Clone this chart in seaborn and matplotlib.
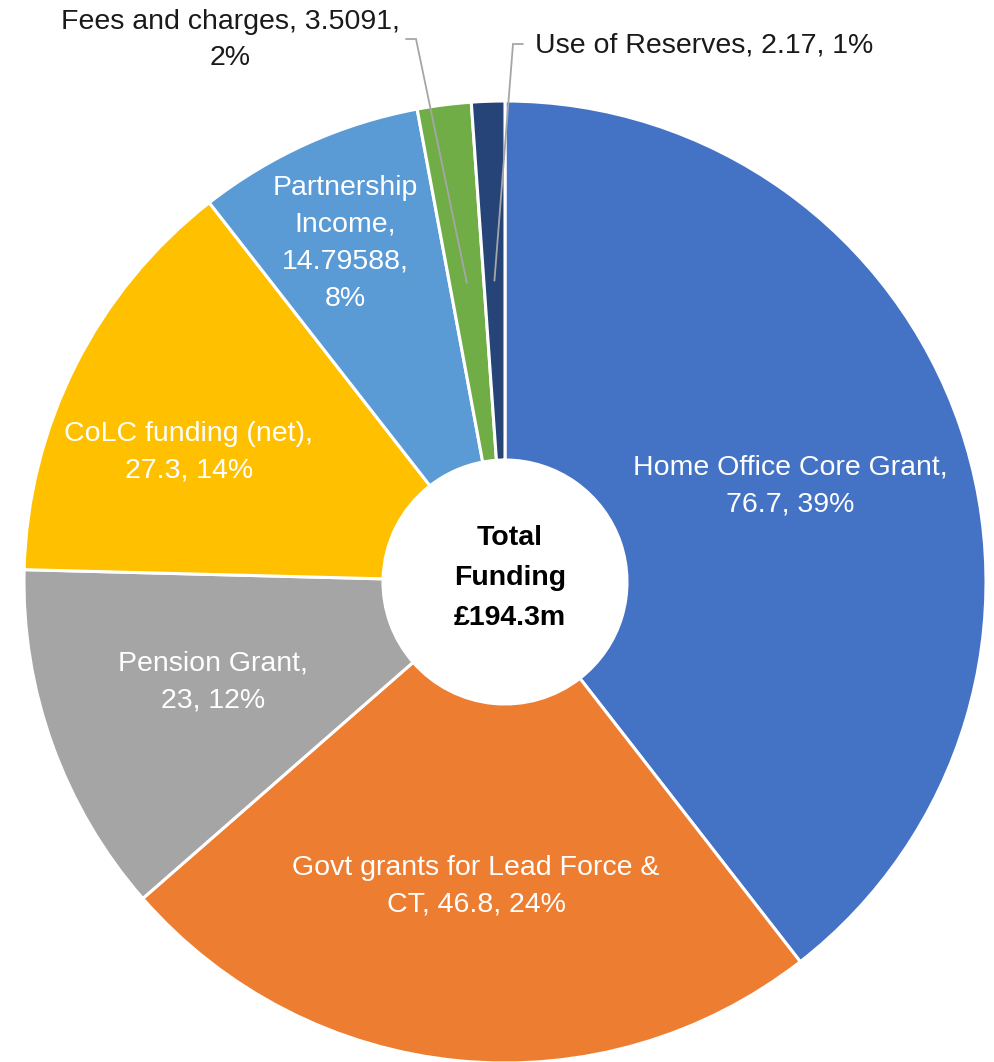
import numpy as np
import matplotlib.pyplot as plt
import seaborn as sns

sns.set_theme(style='white')
plt.rcParams['font.family'] = ['Liberation Sans', 'DejaVu Sans']

# data
categories = ['Home Office Core Grant', 'Govt grants for Lead Force &\nCT', 'Pension Grant',
              'CoLC funding (net)', 'Partnership\nIncome', 'Fees and charges', 'Use of Reserves']
values = [76.7, 46.8, 23, 27.3, 14.79588, 3.5091, 2.17]
# separator after name / after value (Excel wrapping)
sep_name = [',\n', ', ', ',\n', ',\n', ',\n', ', ', ', ']
sep_val = [', ', ', ', ', ', ', ', ',\n', ',\n', ', ']
center_text = 'Total\nFunding\n£194.3m'
colors = ['#4472C4', '#ED7D31', '#A5A5A5', '#FFC000', '#5B9BD5', '#70AD47', '#264478']

W, H = 995, 1062
fig = plt.figure(figsize=(W / 100, H / 100), dpi=100)
ax = fig.add_axes([0, 0, 1, 1])

def Y(y):
    return H - y

cx, cy = 505, Y(582)
R, r_in = 481, 122
wedges, _ = ax.pie(values, colors=colors, startangle=90, counterclock=False,
                   center=(cx, cy), radius=R, frame=True,
                   wedgeprops=dict(width=R - r_in, edgecolor='white', linewidth=2.2))
ax.set_xlim(0, W)
ax.set_ylim(0, H)
ax.axis('off')

total = sum(values)
labels = [f"{c}{s1}{v:.10g}{s2}{round(v / total * 100)}%"
          for c, v, s1, s2 in zip(categories, values, sep_name, sep_val)]

rmid = (R + r_in) / 2
mids = []
for w in wedges:
    a = np.deg2rad((w.theta1 + w.theta2) / 2)
    mids.append((cx + rmid * np.cos(a), cy + rmid * np.sin(a)))

# inside labels (nudges in pixels, y down)
nudge = [(0, 2), (0, 4), (-8, -2), (-47, 6), (-36, -64)]
for i, (dx, dy) in enumerate(nudge):
    x, y = mids[i]
    ax.text(x + dx, y - dy, labels[i], color='white', fontsize=20.5,
            ha='center', va='center', linespacing=1.55)

# outside labels with leader lines
lc = '#A6A6A6'
x, y = mids[5]
ax.plot([x, 416, 406], [y, Y(39), Y(39)], color=lc, lw=1.3, solid_joinstyle='miter')
ax.text(230, Y(40), labels[5], color='#1a1a1a', fontsize=20.5,
        ha='center', va='center', linespacing=1.5)
x, y = mids[6]
ax.plot([x, 513, 523], [y, Y(44), Y(44)], color=lc, lw=1.3, solid_joinstyle='miter')
ax.text(535, Y(45), labels[6], color='#1a1a1a', fontsize=20.5,
        ha='left', va='center')

ax.text(cx + 5, cy + 4, center_text, color='black', fontsize=20.5, fontweight='bold',
        ha='center', va='center', linespacing=1.7)

fig.savefig('out.png', dpi=100)
